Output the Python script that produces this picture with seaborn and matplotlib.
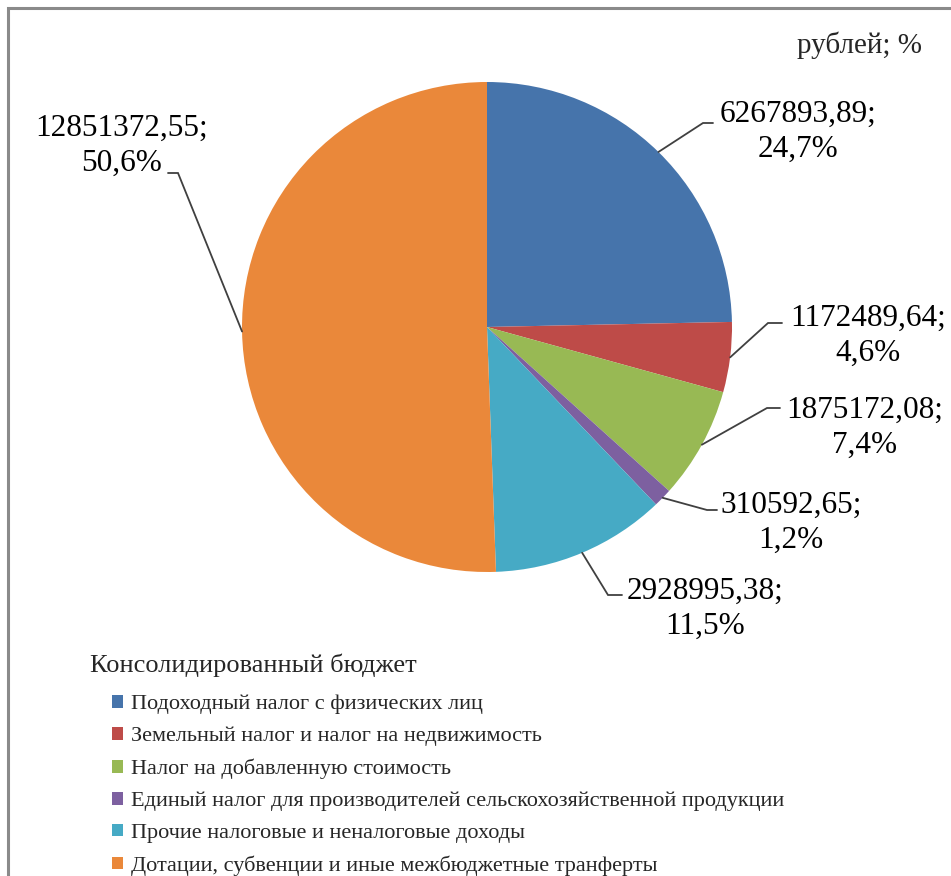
import numpy as np
import matplotlib
matplotlib.use("Agg")
import matplotlib.pyplot as plt
import seaborn as sns

# data (рублей)
categories = [
    "Подоходный налог с физических лиц",
    "Земельный налог и налог на недвижимость",
    "Налог на добавленную стоимость",
    "Единый налог для производителей сельскохозяйственной продукции",
    "Прочие налоговые и неналоговые доходы",
    "Дотации, субвенции и иные межбюджетные транферты",
]
values = [6267893.89, 1172489.64, 1875172.08, 310592.65, 2928995.38, 12851372.55]
colors = ["#4674AB", "#BE4B48", "#98B954", "#7D60A0", "#46AAC5", "#EA883A"]

legend_title = "Консолидированный бюджет"
units_note = "рублей; %"

# layout in image pixels (origin top-left)
W, H = 951, 876
center_px = (487, 327)
radius_px = 245
# label block centre, leader elbow, leader end
label_pos = [(798, 132), (868, 336), (865, 428), (791, 523), (705, 609), (122, 146)]
elbow_pos = [(703, 123), (768, 323), (767, 408), (707, 510), (608, 595), (178, 173)]
end_pos = [(713, 123), (782, 323), (780, 408), (717, 510), (622, 595), (168, 173)]


def px(x, y):
    """Convert image pixel coords to data coords (y up)."""
    return x, H - y


def fmt_label(v, total):
    num = f"{v:.2f}".replace(".", ",")
    pct = f"{v / total * 100:.1f}".replace(".", ",")
    return f"{num};\n{pct}%"


sns.set_theme(style="white")
plt.rcParams["font.family"] = ["Liberation Serif", "DejaVu Serif"]

fig = plt.figure(figsize=(W / 100, H / 100), dpi=100)
ax = fig.add_axes([0, 0, 1, 1])

palette = sns.color_palette(colors)
wedges, _ = ax.pie(
    values,
    colors=palette,
    startangle=90,
    counterclock=False,
    center=px(*center_px),
    radius=radius_px,
    wedgeprops=dict(linewidth=0),
)
ax.set_aspect("auto")
ax.set_xlim(0, W)
ax.set_ylim(0, H)
ax.axis("off")

total = sum(values)
cx, cy = px(*center_px)
for w, v, lp, ep, en in zip(wedges, values, label_pos, elbow_pos, end_pos):
    theta = np.deg2rad((w.theta1 + w.theta2) / 2)
    sx = cx + radius_px * np.cos(theta)
    sy = cy + radius_px * np.sin(theta)
    ex, ey = px(*ep)
    nx, ny = px(*en)
    ax.plot([sx, ex, nx], [sy, ey, ny], color="#404040", lw=1.3,
            solid_joinstyle="miter")
    ax.text(*px(*lp), fmt_label(v, total), ha="center", va="center",
            multialignment="center", fontsize=22.5, linespacing=1.25,
            color="black")

# units note, top right
ax.text(*px(922, 45), units_note, ha="right", va="center", fontsize=21)

# frame around the chart area
ax.plot([8, 8, W], [0, H - 8, H - 8], color="#8a8a8a", lw=2.2,
        solid_joinstyle="miter")

# legend
ax.text(*px(90, 665), legend_title, ha="left", va="center", fontsize=19)
leg = ax.legend(
    wedges, categories,
    loc="upper left",
    bbox_to_anchor=(112 / W, 1 - 695 / H),
    bbox_transform=fig.transFigure,
    frameon=False,
    fontsize=16,
    handlelength=0.5,
    handleheight=0.5,
    handletextpad=0.35,
    labelspacing=0.56,
    borderpad=0,
    borderaxespad=0,
)

fig.savefig("out.png", dpi=100)
